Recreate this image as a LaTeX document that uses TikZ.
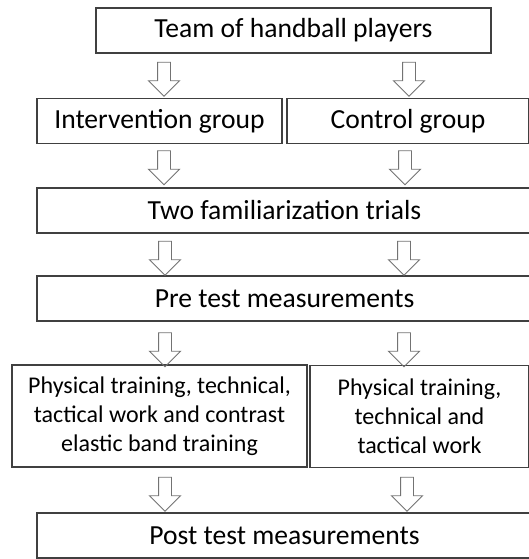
\documentclass[tikz,border=0pt]{standalone}
\usepackage{fontspec}
\setmainfont{Carlito}
\usetikzlibrary{shapes.arrows}

\tikzset{
  stagebox/.style={draw=black!75, line width=1.1pt, inner sep=0pt, minimum height=45pt,
    font=\fontsize{27.6}{33}\selectfont},
  armbox/.style={draw=black!75, line width=1.1pt, inner sep=0pt, minimum height=102pt,
    align=center, font=\fontsize{24}{29}\selectfont},
  blockarrow/.style={single arrow, draw=black!55, line width=0.9pt, rotate=-90,
    inner sep=6pt, minimum height=34pt, minimum width=30pt,
    single arrow head extend=9pt}
}

\begin{document}
\begin{tikzpicture}[x=1pt, y=1pt]

\useasboundingbox (0, 0) rectangle (528, 559);

% Stages of the study
\node[stagebox, minimum width=395pt] (team) at (293.5, 528.5) {Team of handball players};
\node[stagebox, minimum width=245pt] (interv) at (159.5, 438) {Intervention group};
\node[stagebox, minimum width=242pt] (control) at (408, 438) {Control group};
\node[stagebox, minimum width=495pt] (famil) at (284.5, 348.5) {Two familiarization trials};
\node[stagebox, minimum width=495pt] (pretest) at (284.5, 260.5) {Pre test measurements};

% Training of both groups
\node[armbox, minimum width=295pt] (trainI) at (159.5, 143) {Physical training, technical,\\tactical work and contrast\\elastic band training};
\node[armbox, minimum width=219pt] (trainC) at (419.5, 142.5) {Physical training,\\technical and\\tactical work};

\node[stagebox, minimum width=495pt] (posttest) at (284.5, 23.5) {Post test measurements};

% Hollow arrows between the stages
\node[blockarrow] (a1l) at (164, 483) {};
\node[blockarrow] (a1r) at (409, 483) {};
\node[blockarrow] (a2l) at (164, 394.5) {};
\node[blockarrow] (a2r) at (405, 394.5) {};
\node[blockarrow] (a3l) at (165, 304) {};
\node[blockarrow] (a3r) at (404, 304) {};
\node[blockarrow] (a4l) at (165, 212.5) {};
\node[blockarrow] (a4r) at (404, 212.5) {};
\node[blockarrow] (a5l) at (165, 68) {};
\node[blockarrow] (a5r) at (407, 68) {};

\end{tikzpicture}
\end{document}
